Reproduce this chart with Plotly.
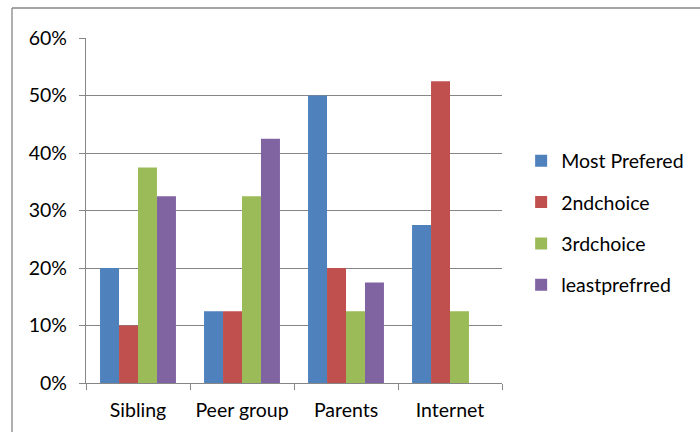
import plotly.graph_objects as go

categories = ["Sibling", "Peer group", "Parents", "Internet"]
most_prefered = [0.20, 0.125, 0.50, 0.275]
second_choice = [0.10, 0.125, 0.20, 0.525]
third_choice = [0.375, 0.325, 0.125, 0.125]
least_prefrred = [0.325, 0.425, 0.175, None]

series = [
    ("Most Prefered", most_prefered, "#4F81BD"),
    ("2ndchoice", second_choice, "#C0504D"),
    ("3rdchoice", third_choice, "#9BBB59"),
    ("leastprefrred", least_prefrred, "#8064A2"),
]

W, H = 700, 432
L, R, T, B = 86, 502, 38, 383

fig = go.Figure()
for i, (name, vals, color) in enumerate(series):
    fig.add_trace(go.Bar(
        x=categories, y=vals, name=name, marker_color=color,
        marker_line_width=0, legendgroup=f"g{i}",
    ))

font_family = "Lato, Open Sans, sans-serif"
fs = 19.5

fig.update_layout(
    width=W, height=H,
    margin=dict(l=L, r=W - R, t=T, b=H - B, pad=0, autoexpand=False),
    paper_bgcolor="white", plot_bgcolor="white",
    barmode="group", bargap=0.27, bargroupgap=0,
    font=dict(family=font_family, size=fs, color="#000000"),
    legend=dict(
        x=1.046, y=0.70, xanchor="left", yanchor="top",
        tracegroupgap=13, itemwidth=30,
        font=dict(size=fs, family=font_family),
        bgcolor="rgba(0,0,0,0)",
    ),
    shapes=[
        dict(type="line", xref="paper", yref="paper",
             x0=(12 - L) / (R - L), x1=(12 - L) / (R - L),
             y0=(B - 8) / (B - T), y1=(B - 440) / (B - T),
             line=dict(color="#868686", width=1.3)),
        dict(type="line", xref="paper", yref="paper",
             x0=(12 - L) / (R - L), x1=(710 - L) / (R - L),
             y0=(B - 8) / (B - T), y1=(B - 8) / (B - T),
             line=dict(color="#868686", width=1.3)),
    ],
)

fig.update_yaxes(
    range=[0, 0.6], tickvals=[0, 0.1, 0.2, 0.3, 0.4, 0.5, 0.6],
    tickformat=".0%", showgrid=True, gridcolor="#868686", gridwidth=1,
    showline=True, linecolor="#868686", linewidth=1.3,
    ticks="outside", ticklen=6, tickcolor="#868686",
    zeroline=False, tickfont=dict(size=fs), ticklabelstandoff=8,
)
fig.update_xaxes(
    showline=True, linecolor="#868686", linewidth=1.3,
    ticks="outside", tickson="boundaries", ticklen=6, tickcolor="#868686",
    tickfont=dict(size=fs), ticklabelstandoff=9,
)

fig.write_html("out.html")
